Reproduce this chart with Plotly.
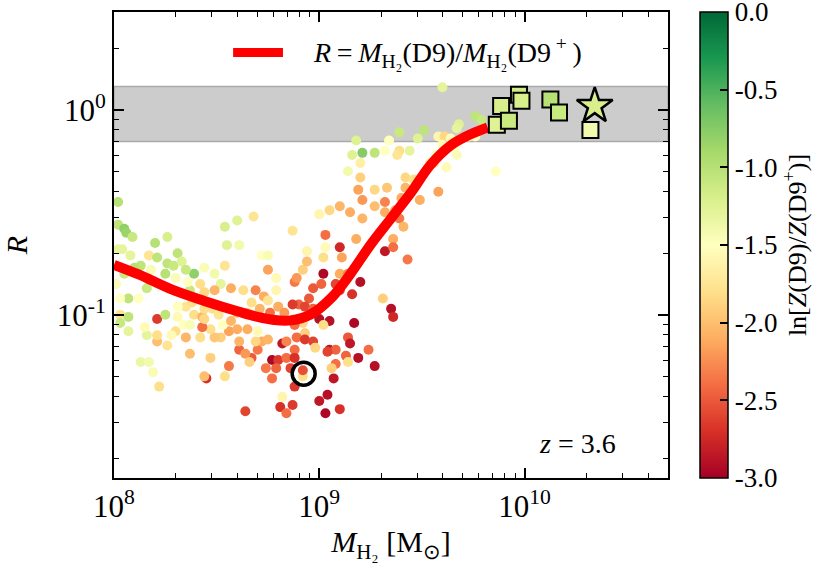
import numpy as np
import plotly.graph_objects as go

FONT = "Liberation Serif"

# galaxies: log10 M_H2 [Msun], log10 R, colour = ln[Z(D9)/Z(D9+)]
log_mh2 = [
    9.18, 9.16, 9.21, 9.27, 9.32, 9.34, 9.20, 9.14, 9.20, 9.19,
    9.27, 9.33, 9.21, 9.27, 9.32, 9.32, 9.10, 9.05, 9.00, 9.15,
    9.21, 8.68, 8.60, 8.54, 8.87, 8.02, 8.02, 8.05, 8.06, 8.09,
    8.20, 8.26, 9.03, 9.10, 9.18, 8.55, 8.61, 9.60, 9.76, 9.79,
    9.68, 9.67, 9.73, 9.76, 9.58, 9.51, 9.48, 9.39, 9.61, 9.64,
    9.60, 9.66, 9.67, 9.62, 9.57, 9.56, 9.54, 9.39, 9.44, 9.38,
    9.86, 9.42, 9.46, 9.42, 9.58, 9.49, 9.40, 9.37, 9.39, 9.41,
    9.36, 9.43, 8.02, 8.04, 8.08, 8.17, 8.21, 8.26, 8.29, 8.31,
    8.33, 8.39, 8.35, 8.25, 8.18, 8.13, 8.10, 8.05, 8.01, 8.07,
    8.03, 8.12, 8.16, 8.21, 8.30, 8.37, 8.36, 8.44, 8.49, 8.54,
    8.42, 8.44, 8.52, 8.49, 8.57, 8.63, 8.72, 8.75, 8.75, 8.79,
    8.79, 8.69, 8.73, 8.67, 8.71, 8.75, 8.80, 8.76, 8.83, 8.88,
    8.89, 8.92, 8.94, 8.94, 9.02, 9.03, 9.11, 9.10, 9.14, 9.02,
    8.97, 9.01, 9.08, 9.10, 9.16, 9.20, 9.31, 9.32, 9.35, 9.36,
    9.36, 8.95, 8.90, 8.87, 8.93, 8.97, 9.00, 9.05, 9.02, 9.17,
    8.92, 8.88, 8.93, 8.89, 8.82, 8.84, 8.88, 8.93, 8.97, 8.98,
    9.05, 9.08, 9.04, 9.14, 9.15, 9.13, 9.14, 9.19, 9.24, 9.27,
    9.08, 9.06, 9.07, 9.00, 9.04, 9.10, 9.03, 8.77, 8.80, 8.84,
    8.88, 8.86, 8.79, 8.74, 8.77, 8.88, 8.92, 8.92, 8.82, 8.81,
    8.87, 8.84, 8.64, 8.67, 8.61, 8.64, 8.66, 8.70, 8.72, 8.75,
    8.69, 8.70, 8.65, 8.61, 8.56, 8.60, 8.52, 8.49, 8.47, 8.43,
    8.42, 8.56, 8.47, 8.45, 8.44, 8.54, 8.37, 8.35, 8.30, 8.28,
    8.26, 8.21, 8.21, 8.21, 8.25, 8.16, 8.15, 8.13, 8.17, 8.19,
    8.22, 8.07, 8.03, 8.07, 8.03, 8.31, 8.34, 8.37, 8.39, 8.43,
    8.44, 8.48, 8.51, 8.53, 8.57, 8.60, 8.65, 8.41, 8.35, 8.38,
    8.31, 8.44,
]
log_r = [
    -0.15, -0.22, -0.21, -0.21, -0.20, -0.15, -0.26, -0.30, -0.33, -0.39,
    -0.39, -0.38, -0.44, -0.47, -0.45, -0.50, -0.47, -0.49, -0.51, -0.50,
    -0.53, -0.52, -0.54, -0.57, -0.59, -0.45, -0.56, -0.58, -0.60, -0.62,
    -0.65, -0.62, -0.61, -0.67, -0.63, -0.66, -0.66, 0.11, -0.03, -0.05,
    -0.07, -0.09, -0.13, -0.13, -0.13, -0.10, -0.14, -0.11, -0.13, -0.14,
    -0.17, -0.18, -0.22, -0.28, -0.22, -0.26, -0.26, -0.20, -0.20, -0.22,
    -0.30, -0.33, -0.34, -0.38, -0.40, -0.44, -0.43, -0.49, -0.53, -0.57,
    -0.63, -0.73, -0.68, -0.68, -0.71, -0.71, -0.72, -0.75, -0.76, -0.70,
    -0.74, -0.80, -0.78, -0.80, -0.78, -0.76, -0.77, -0.80, -0.85, -0.92,
    -0.92, -0.92, -0.87, -0.85, -0.82, -0.88, -0.84, -0.77, -0.80, -0.76,
    -0.85, -0.89, -0.85, -0.88, -0.87, -0.88, -0.71, -0.71, -0.78, -0.82,
    -0.88, -0.88, -0.91, -0.94, -0.97, -0.93, -0.96, -0.99, -0.99, -0.84,
    -0.82, -0.78, -0.74, -0.69, -0.72, -0.67, -0.72, -0.80, -0.80, -0.80,
    -0.87, -0.85, -0.85, -0.88, -0.90, -0.84, -0.92, -0.69, -0.97, -1.01,
    -0.67, -0.92, -0.95, -0.95, -0.96, -0.97, -1.02, -1.03, -1.05, -1.04,
    -1.04, -1.05, -1.09, -1.11, -1.14, -1.13, -1.17, -1.12, -1.13, -1.16,
    -1.17, -1.17, -1.18, -1.11, -1.14, -1.20, -1.23, -1.21, -1.17, -1.25,
    -1.24, -1.26, -1.31, -1.42, -1.39, -1.46, -1.48, -1.22, -1.22, -1.21,
    -1.21, -1.26, -1.26, -1.26, -1.31, -1.35, -1.30, -1.27, -1.40, -1.45,
    -1.44, -1.48, -1.47, -1.21, -1.17, -1.19, -1.23, -1.17, -1.13, -1.12,
    -1.13, -1.08, -1.07, -1.13, -1.08, -1.07, -1.11, -1.11, -1.07, -1.06,
    -1.11, -1.25, -1.21, -1.31, -1.30, -1.30, -1.19, -1.11, -1.08, -1.10,
    -1.15, -1.13, -1.10, -1.02, -1.00, -1.10, -1.06, -1.23, -1.23, -1.28,
    -1.35, -1.08, -1.00, -1.01, -1.04, -1.01, -1.05, -1.05, -1.00, -1.01,
    -1.02, -0.97, -1.00, -1.05, -1.03, -0.99, -0.99, -0.93, -0.96, -0.94,
    -0.96, -0.97,
]
dlnz = [
    -1.25, -1.25, -0.75, -1.05, -1.5, -1.5, -1.65, -1.4, -1.9, -2.15,
    -1.85, -1.95, -2.2, -2.0, -2.3, -2.1, -2.05, -1.85, -1.6, -2.1,
    -2.05, -1.75, -1.25, -1.2, -1.75, -1.0, -1.05, -0.8, -0.85, -1.1,
    -1.0, -1.2, -2.4, -2.75, -2.1, -1.25, -1.4, -1.3, -1.05, -1.1,
    -1.25, -1.3, -1.45, -1.5, -1.6, -1.05, -1.25, -1.1, -1.85, -1.55,
    -1.55, -1.5, -1.45, -1.55, -1.45, -1.75, -1.7, -1.8, -1.3, -1.75,
    -1.5, -1.85, -1.8, -2.05, -2.15, -2.1, -2.1, -2.1, -2.35, -2.05,
    -2.1, -2.35, -1.3, -1.3, -1.3, -1.75, -1.05, -1.05, -1.1, -1.05,
    -1.25, -0.8, -1.1, -1.0, -1.45, -1.05, -1.0, -1.1, -1.45, -1.05,
    -1.5, -1.5, -1.1, -1.5, -1.45, -1.1, -1.5, -1.45, -1.4, -1.75,
    -1.8, -1.85, -1.3, -2.05, -2.1, -1.8, -1.5, -1.45, -2.15, -1.55,
    -1.6, -2.3, -2.1, -1.8, -2.05, -1.75, -2.1, -2.4, -2.2, -2.35,
    -2.2, -1.9, -2.0, -1.6, -1.8, -1.55, -2.15, -2.1, -2.3, -2.95,
    -2.5, -2.45, -2.6, -2.6, -2.7, -2.9, -1.9, -2.85, -2.9, -2.75,
    -2.4, -2.5, -2.45, -2.65, -2.6, -2.45, -2.9, -2.9, -1.8, -2.95,
    -1.85, -2.4, -1.9, -2.4, -2.85, -2.3, -2.4, -2.65, -2.6, -1.85,
    -2.85, -2.45, -2.6, -2.5, -2.85, -2.45, -1.8, -2.9, -2.4, -2.9,
    -2.4, -1.9, -2.85, -2.85, -2.9, -2.7, -2.95, -2.95, -2.65, -2.4,
    -2.7, -2.6, -2.45, -2.35, -2.4, -2.65, -1.8, -2.55, -1.6, -2.7,
    -2.65, -2.4, -2.6, -2.5, -2.45, -2.2, -1.9, -2.35, -2.1, -2.05,
    -1.85, -1.55, -2.1, -2.05, -2.15, -2.1, -1.9, -1.95, -1.8, -2.4,
    -1.8, -2.35, -1.9, -2.7, -2.0, -1.8, -2.0, -2.05, -1.8, -1.55,
    -1.75, -2.0, -1.8, -2.65, -1.05, -1.3, -1.55, -1.35, -1.4, -1.45,
    -1.8, -1.3, -1.75, -1.05, -1.1, -1.55, -1.5, -1.45, -1.8, -2.05,
    -1.85, -1.8, -1.75, -1.5, -2.05, -2.1, -1.8, -1.55, -1.75, -1.8,
    -1.5, -1.8,
]

# fitted ratio curve
curve_log_mh2 = [8.00, 8.12, 8.28, 8.44, 8.61, 8.70, 8.78, 8.86, 8.96, 9.06,
                 9.15, 9.25, 9.35, 9.45, 9.54, 9.64, 9.74, 9.82]
curve_log_r = [-0.756, -0.803, -0.876, -0.932, -0.985, -1.010, -1.025, -1.027,
               -0.997, -0.916, -0.803, -0.658, -0.529, -0.400, -0.271, -0.174,
               -0.118, -0.086]

# massive systems (squares), main halo (star), highlighted galaxy (circle)
sq_log_mh2 = [9.886, 9.865, 9.924, 9.973, 9.985, 10.126, 10.168, 10.321]
sq_log_r = [0.019, -0.073, -0.053, 0.073, 0.044, 0.050, -0.013, -0.099]
sq_dlnz = [-1.2, -1.25, -1.1, -1.15, -1.2, -1.0, -1.1, -1.4]
star_log_mh2 = [10.342]
star_log_r = [0.019]
star_dlnz = [-1.2]
circ_log_mh2 = [8.924]
circ_log_r = [-1.287]

# shaded band
band_lo, band_hi = 0.7, 1.3

cb_ticks = [0.0, -0.5, -1.0, -1.5, -2.0, -2.5, -3.0]

legend_text = ("<i>R</i>\u2009=\u2009<i>M</i><sub>H₂</sub>(D9)/"
               "<i>M</i><sub>H₂</sub>(D9<sup> +</sup>\u2009)")

fig = go.Figure()

fig.add_hrect(y0=band_lo, y1=band_hi, fillcolor="#cccccc", opacity=1,
              line=dict(color="#aaaaaa", width=1.5), layer="below")

fig.add_trace(go.Scatter(
    x=10 ** np.array(log_mh2), y=10 ** np.array(log_r), mode="markers",
    marker=dict(size=10, color=dlnz, colorscale="RdYlGn", cmin=-3, cmax=0,
                line=dict(width=0),
                colorbar=dict(x=1.058, xanchor="left", xpad=0, y=0.5, yanchor="middle",
                              ypad=0, len=1, thickness=28, outlinewidth=1.5,
                              outlinecolor="black", ticks="inside", ticklen=8,
                              tickwidth=1.5, tickcolor="black",
                              ticklabeloverflow="allow",
                              tickvals=cb_ticks, ticktext=["%.1f" % v for v in cb_ticks],
                              tickfont=dict(family=FONT, size=27, color="black"),
                              title=dict(text="ln[<i>Z</i>(D9)/<i>Z</i>(D9<sup>+</sup>)]",
                                         side="right",
                                         font=dict(family=FONT, size=26, color="black")))),
    showlegend=False))

fig.add_trace(go.Scatter(
    x=10 ** np.array(curve_log_mh2), y=10 ** np.array(curve_log_r), mode="lines",
    line=dict(color="#ff0000", width=10, shape="spline", smoothing=1.0),
    showlegend=False))

fig.add_trace(go.Scatter(
    x=10 ** np.array(sq_log_mh2), y=10 ** np.array(sq_log_r), mode="markers",
    marker=dict(symbol="square", size=16, color=sq_dlnz, colorscale="RdYlGn",
                cmin=-3, cmax=0, line=dict(color="black", width=2)),
    showlegend=False))

fig.add_trace(go.Scatter(
    x=10 ** np.array(star_log_mh2), y=10 ** np.array(star_log_r), mode="markers",
    marker=dict(symbol="star", size=27, color=star_dlnz, colorscale="RdYlGn",
                cmin=-3, cmax=0, line=dict(color="black", width=2.5)),
    showlegend=False))

fig.add_trace(go.Scatter(
    x=10 ** np.array(circ_log_mh2), y=10 ** np.array(circ_log_r), mode="markers",
    marker=dict(symbol="circle-open", size=23, color="black", line=dict(width=3.5)),
    showlegend=False))

x_minor = [k * 10.0 ** e for e in (8, 9, 10) for k in range(2, 10) if k * 10.0 ** e <= 5e10]
y_minor = [k * 10.0 ** e for e in (-2, -1, 0) for k in range(2, 10)
           if 0.016 <= k * 10.0 ** e <= 3]

axis_common = dict(showgrid=False, zeroline=False, showline=True, linecolor="black",
                   linewidth=2, mirror="allticks", ticks="inside", ticklen=10,
                   tickwidth=1.5, tickcolor="black",
                   tickfont=dict(family=FONT, size=31, color="black"))

fig.update_xaxes(type="log", range=[8, np.log10(5e10)],
                 tickvals=[1e8, 1e9, 1e10],
                 ticktext=["10<sup>8</sup>", "10<sup>9</sup>", "10<sup>10</sup>"],
                 minor=dict(tickvals=x_minor, ticks="inside", ticklen=5, tickwidth=1.2,
                            tickcolor="black"),
                 title=dict(text="<i>M</i><sub>H₂</sub> [M<sub>⊙</sub>]", standoff=8,
                            font=dict(family=FONT, size=30, color="black")),
                 **axis_common)
fig.update_yaxes(type="log", range=[np.log10(0.016), np.log10(3)],
                 tickvals=[0.1, 1.0],
                 ticktext=["10<sup>-1</sup>", "10<sup>0</sup>"],
                 minor=dict(tickvals=y_minor, ticks="inside", ticklen=5, tickwidth=1.2,
                            tickcolor="black"),
                 title=dict(text="<i>R</i>", standoff=22,
                            font=dict(family=FONT, size=30, color="black")),
                 **axis_common)

# legend drawn by hand so the sample line matches the reference
fig.add_shape(type="line", xref="paper", yref="paper", x0=0.215, x1=0.305,
              y0=0.913, y1=0.913, line=dict(color="#ff0000", width=9))
fig.add_annotation(x=0.355, y=0.913, xref="paper", yref="paper", xanchor="left",
                   yanchor="middle", text=legend_text, showarrow=False,
                   font=dict(family=FONT, size=28, color="black"))

fig.add_annotation(x=0.91, y=0.075, xref="paper", yref="paper", xanchor="right",
                   yanchor="middle", text="<i>z</i>&nbsp;=&nbsp;3.6", showarrow=False,
                   font=dict(family=FONT, size=28, color="black"))

fig.update_layout(
    width=830, height=581,
    margin=dict(l=114, r=162, t=10, b=103),
    plot_bgcolor="white", paper_bgcolor="white",
    font=dict(family=FONT, color="black"),
    showlegend=False,
)

# drop the default 8px page margin so the figure fills the window exactly
fig.write_html("out.html", config={"displayModeBar": False},
               post_script="document.body.style.margin = '0px';")
